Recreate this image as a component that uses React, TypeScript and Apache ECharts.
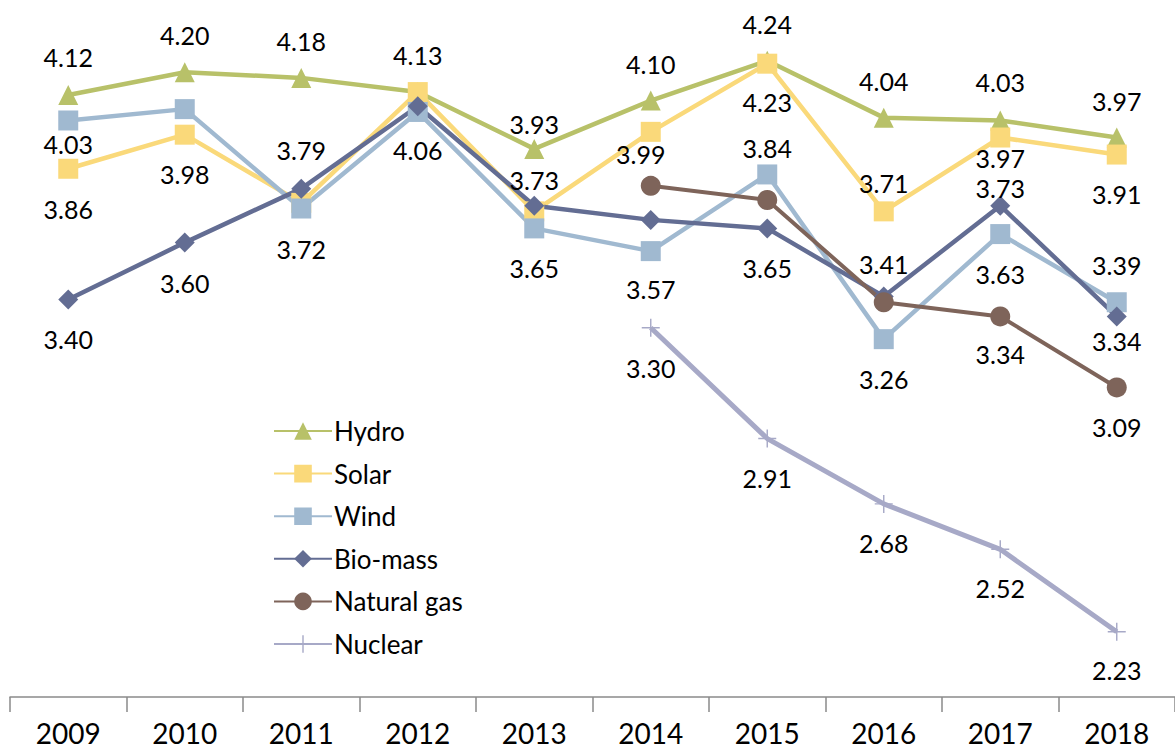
import React, { useEffect, useRef } from "react";
import * as echarts from "echarts";

const years = ["2009", "2010", "2011", "2012", "2013", "2014", "2015", "2016", "2017", "2018"];
const hydro = [4.12, 4.2, 4.18, 4.13, 3.93, 4.1, 4.24, 4.04, 4.03, 3.97];
const solar = [3.86, 3.98, 3.74, 4.13, 3.71, 3.99, 4.23, 3.71, 3.97, 3.91];
const wind = [4.03, 4.07, 3.72, 4.06, 3.65, 3.57, 3.84, 3.26, 3.63, 3.39];
const bioMass = [3.4, 3.6, 3.79, 4.08, 3.73, 3.68, 3.65, 3.41, 3.73, 3.34];
const naturalGas = [null, null, null, null, null, 3.8, 3.75, 3.39, 3.34, 3.09];
const nuclear = [null, null, null, null, null, 3.3, 2.91, 2.68, 2.52, 2.23];

// label vertical offsets (px from point centre); null = no label shown
const hydroLabelDy = [-38, -37, -37, -37, -25, -37, -37, -37, -38, -37];
const solarLabelDy = [40, 39, null, null, null, 22, 38, -28, 20, 39];
const solarLabelDx = [0, 0, 0, 0, 0, -10, 0, 0, 0, 0];
const windLabelDy = [24, null, 40, 38, 40, 38, -26, 40, 40, -37];
const bioLabelDy = [40, 40, -39, null, -26, null, 40, -33, -18, 25];
const gasLabelDy = [null, null, null, null, null, null, null, null, 38, 40];
const nuclearLabelDy = [null, null, null, null, null, 40, 39, 39, 39, 38];

const FONT = "Lato";
const plusSymbol = "path://M0,9.2h20v1.6H0z M9.2,0h1.6v20h-1.6z";

function buildData(values: (number | null)[], dy: (number | null)[], dx?: number[]) {
  return values.map((v, i) => {
    if (v == null) return null;
    const d = dy[i];
    if (d == null) return v;
    return {
      value: v,
      label: {
        show: true,
        position: "inside",
        offset: [dx ? dx[i] : 0, d],
        formatter: (p: any) => Number(p.value).toFixed(2),
      },
    };
  });
}

export default function App() {
  const ref = useRef<HTMLDivElement>(null);
  useEffect(() => {
    if (!ref.current) return;
    const chart = echarts.init(ref.current, null, { renderer: "svg" });
    const labelStyle = {
      show: false,
      color: "#000",
      fontFamily: FONT,
      fontSize: 25,
    };
    const mk = (
      name: string,
      data: any[],
      color: string,
      symbol: string,
      symbolSize: number,
      width: number
    ) => ({
      name,
      type: "line",
      data,
      symbol,
      symbolSize,
      showAllSymbol: true,
      connectNulls: false,
      lineStyle: { color, width },
      itemStyle: { color, borderWidth: 0 },
      label: labelStyle,
      emphasis: { disabled: true },
    });
    chart.setOption({
      animation: false,
      grid: { left: 10, top: 15.4, width: 1170, height: 681.6 },
      legend: {
        orient: "vertical",
        left: 268,
        top: 413,
        itemWidth: 58,
        itemHeight: 22,
        itemGap: 16.6,
        data: ["Hydro", "Solar", "Wind", "Bio-mass", "Natural gas", "Nuclear"],
        textStyle: { fontFamily: FONT, fontSize: 26, color: "#000", padding: [0, 0, 0, -3] },
      },
      xAxis: {
        type: "category",
        data: years,
        boundaryGap: true,
        axisLine: { lineStyle: { color: "#8a8a8a", width: 1.5 } },
        axisTick: { show: true, length: 15, lineStyle: { color: "#8a8a8a", width: 1.5 } },
        axisLabel: { color: "#000", fontFamily: FONT, fontSize: 28, margin: 22 },
      },
      yAxis: {
        type: "value",
        min: 2,
        max: 4.4,
        show: false,
        splitLine: { show: false },
      },
      series: [
        mk("Hydro", buildData(hydro, hydroLabelDy), "#b8c169", "triangle", 20, 4.5),
        mk("Solar", buildData(solar, solarLabelDy, solarLabelDx), "#fad97a", "rect", 20, 4.5),
        mk("Wind", buildData(wind, windLabelDy), "#a0b9d0", "rect", 20, 4.5),
        mk("Bio-mass", buildData(bioMass, bioLabelDy), "#636d93", "diamond", 20, 4.5),
        mk("Natural gas", buildData(naturalGas, gasLabelDy), "#7e645a", "circle", 20, 4),
        mk("Nuclear", buildData(nuclear, nuclearLabelDy), "#a7a9c7", plusSymbol, 18, 5),
      ],
    });
    return () => chart.dispose();
  }, []);
  return (
    <div
      ref={ref}
      style={{ position: "absolute", left: 0, top: 0, width: 1175, height: 752, background: "#fff" }}
    />
  );
}
